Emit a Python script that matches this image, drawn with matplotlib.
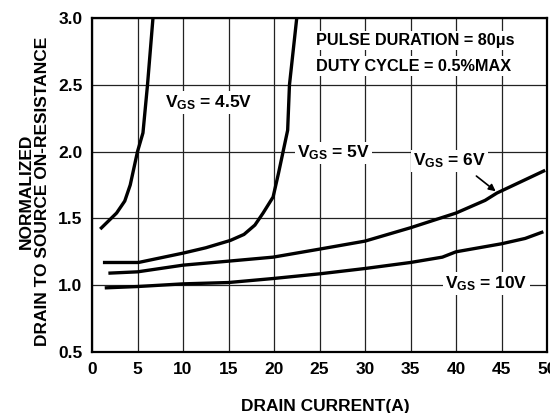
import matplotlib.pyplot as plt

plt.rcParams['font.family'] = ['Liberation Sans', 'DejaVu Sans']
plt.rcParams['font.weight'] = 'bold'

# drain current (A) vs normalized on-resistance
x_45 = [0.9, 2.7, 3.6, 4.2, 5.0, 5.6, 6.1, 6.7]
r_45 = [1.42, 1.54, 1.63, 1.75, 2.0, 2.14, 2.5, 3.0]

x_5 = [1.2, 5.1, 10, 12.5, 15.2, 16.7, 17.9, 18.8, 19.9, 20.5, 21.0, 21.5, 21.7, 22.5]
r_5 = [1.17, 1.17, 1.24, 1.28, 1.335, 1.38, 1.45, 1.54, 1.66, 1.84, 2.0, 2.16, 2.5, 3.0]

x_6 = [1.8, 5, 10, 15, 19.9, 25, 30, 35, 40, 43.2, 44.5, 49.8]
r_6 = [1.09, 1.10, 1.15, 1.18, 1.21, 1.27, 1.33, 1.43, 1.54, 1.635, 1.69, 1.86]

x_10 = [1.4, 5, 10, 15, 19.9, 25, 30, 35, 38.5, 40, 45, 47.6, 49.6]
r_10 = [0.98, 0.99, 1.01, 1.02, 1.05, 1.085, 1.125, 1.17, 1.21, 1.25, 1.31, 1.35, 1.40]

fig = plt.figure(figsize=(5.5, 4.13), dpi=100)
ax = fig.add_axes([92 / 550, 61 / 413, 455 / 550, 334 / 413])

for xs, ys in [(x_45, r_45), (x_5, r_5), (x_6, r_6), (x_10, r_10)]:
    ax.plot(xs, ys, color='black', lw=2.4, solid_capstyle='butt',
            solid_joinstyle='round', zorder=3)

ax.set_xlim(0, 50)
ax.set_ylim(0.5, 3.0)
ax.set_xticks(range(0, 51, 5))
ax.set_yticks([0.5, 1.0, 1.5, 2.0, 2.5, 3.0])
ax.set_yticklabels(['0.5', '1.0', '1.5', '2.0', '2.5', '3.0'])
ax.tick_params(length=0, labelsize=12.5, pad=7)
ax.grid(True, color='#222222', lw=0.9)
for s in ax.spines.values():
    s.set_linewidth(1.6)
ax.set_axisbelow(True)

ax.set_xlabel('DRAIN CURRENT(A)', fontsize=12.5, fontweight='bold')
ax.xaxis.set_label_coords(0.512, -0.14)
ax.set_ylabel('NORMALIZED\nDRAIN TO SOURCE ON-RESISTANCE', fontsize=12.5,
              fontweight='bold', linespacing=1.1)
ax.yaxis.set_label_coords(-0.093, 0.482)

box = dict(facecolor='white', edgecolor='none', pad=1.5)
kw = dict(fontsize=12.5, fontweight='bold', va='center', ha='left', bbox=box, zorder=4)
ax.text(8.0, 2.37, r'$\mathregular{V_{GS}}$ = 4.5V', **kw)
ax.text(22.5, 1.99, r'$\mathregular{V_{GS}}$ = 5V', **kw)
ax.text(35.3, 1.93, r'$\mathregular{V_{GS}}$ = 6V', **kw)
ax.text(38.8, 1.01, r'$\mathregular{V_{GS}}$ = 10V', **kw)
ax.annotate('', xy=(44.6, 1.69), xytext=(42.0, 1.83),
            arrowprops=dict(arrowstyle='-|>', color='black', lw=1.2))

kw['fontsize'] = 11.7
ax.text(24.6, 2.83, 'PULSE DURATION = 80\u03bcs', **kw)
ax.text(24.6, 2.64, 'DUTY CYCLE = 0.5%MAX', **kw)

fig.savefig('out.png', dpi=100)
